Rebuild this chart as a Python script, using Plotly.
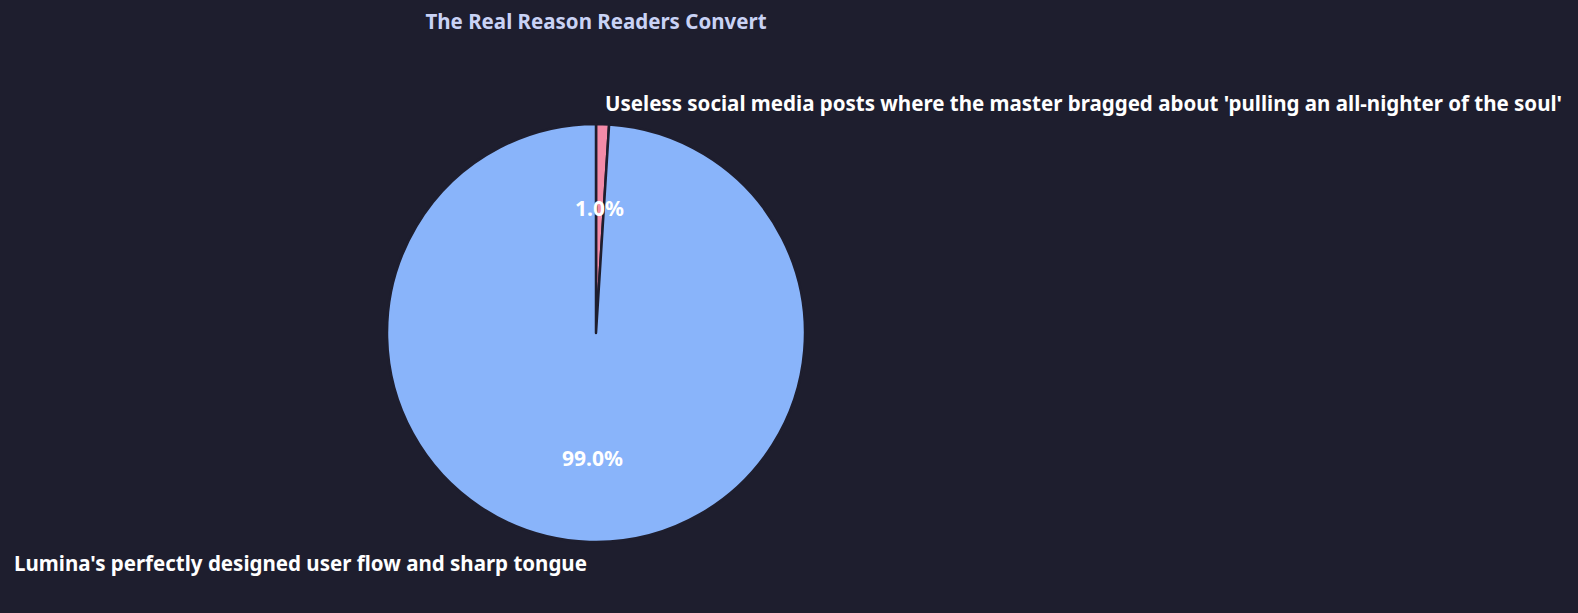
import numpy as np
import plotly.graph_objects as go

labels = [
    "Lumina's perfectly designed user flow and sharp tongue",
    "Useless social media posts where the master bragged about 'pulling an all-nighter of the soul'",
]
shares = [99, 1]
colors = ["#89b4fa", "#f38ba8"]
title = "The Real Reason Readers Convert"

bg = "#1e1e2e"
font = "Noto Sans"
W, H = 1578, 613
cx, cy, R = 596, 333, 209  # pie centre / radius in px (cy from top)


def to_paper(r, ang):
    # polar position around the pie centre -> paper coords (margins are 0)
    x = cx + r * R * np.cos(np.radians(ang))
    y = (H - cy) + r * R * np.sin(np.radians(ang))
    return x / W, y / H


fig = go.Figure()
# slices run counterclockwise from 12 o'clock; plotly's clockwise order reversed gives the same
fig.add_trace(go.Pie(
    labels=labels[::-1],
    values=shares[::-1],
    sort=False,
    direction="clockwise",
    rotation=0,
    textinfo="none",
    marker=dict(colors=colors[::-1], line=dict(color=bg, width=2.5)),
    domain=dict(x=[(cx - R) / W, (cx + R) / W], y=[(H - cy - R) / H, (H - cy + R) / H]),
    showlegend=False,
))

# slice labels and percentages, placed along each slice's bisector
total = sum(shares)
start = 90.0
annotations = []
for lab, val in zip(labels, shares):
    mid = start + 360.0 * val / total / 2
    start += 360.0 * val / total
    px_, py_ = to_paper(0.6, mid)
    annotations.append(dict(
        x=px_, y=py_, xref="paper", yref="paper", showarrow=False,
        text=f"{100 * val / total:.1f}%", xanchor="center", yanchor="middle",
        font=dict(family=font, size=21, color="#ffffff", weight="bold"),
    ))
    lx, ly = to_paper(1.1, mid)
    annotations.append(dict(
        x=lx, y=ly, xref="paper", yref="paper", showarrow=False,
        text=lab, xanchor="left" if np.cos(np.radians(mid)) > 0 else "right",
        yanchor="middle",
        font=dict(family=font, size=20.5, color="#ffffff", weight="bold"),
    ))

fig.update_layout(
    width=W, height=H,
    paper_bgcolor=bg, plot_bgcolor=bg,
    margin=dict(l=0, r=0, t=0, b=0),
    title=dict(text=title, x=596 / W, xanchor="center", y=1 - 22 / H, yanchor="middle",
               font=dict(family=font, size=20.5, color="#c9d2f5", weight="bold")),
    annotations=annotations,
)

fig.write_html("out.html", config={"displayModeBar": False},
               post_script="document.body.style.margin='0';"
               "document.body.style.overflow='hidden';")
